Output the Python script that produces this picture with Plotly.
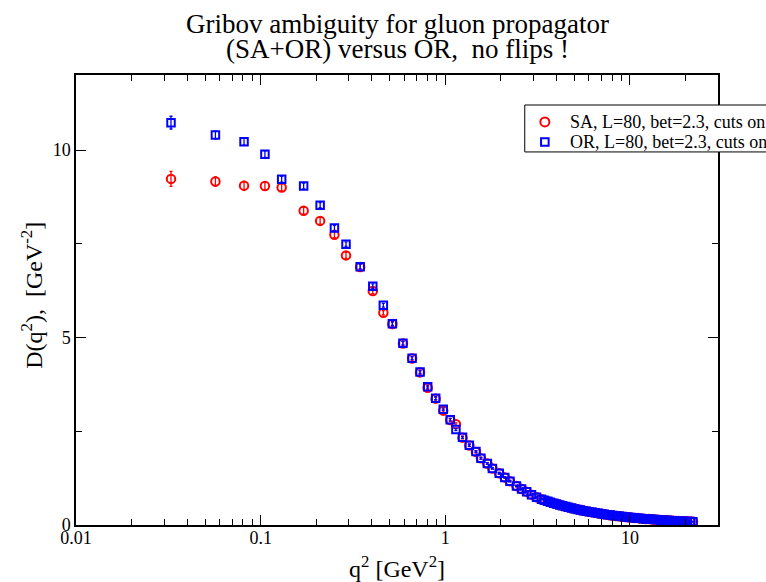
import math
import plotly.graph_objects as go

# Gluon propagator D(q^2) for L=80, beta=2.3 with cuts: SA+OR vs OR gauge fixing
q2 = [
    0.0327, 0.0569, 0.0813, 0.1055, 0.130, 0.171, 0.210, 0.251, 0.290, 0.346,
    0.405, 0.462, 0.517, 0.590, 0.661, 0.730, 0.803, 0.887, 0.975, 1.064,
    1.142, 1.24, 1.35, 1.466, 1.56, 1.69, 1.80, 1.96, 2.10, 2.24,
    2.43, 2.59, 2.76, 2.93, 3.12, 3.32,
    3.44, 3.59, 3.71, 3.87, 4.00, 4.17, 4.31, 4.49, 4.64, 4.84,
    5.00, 5.21, 5.39, 5.61, 5.80, 6.04, 6.25, 6.51, 6.74, 7.01,
    7.26, 7.55, 7.82, 8.13, 8.42, 8.76, 9.07, 9.43, 9.77, 10.16,
    10.52, 10.94, 11.33, 11.78, 12.20, 12.68, 13.14, 13.66, 14.15, 14.71,
    15.24, 15.84, 16.41, 17.05, 17.67, 18.36, 19.03, 19.77, 20.49, 21.28,
    21.95,
]

sa_d = [
    9.23, 9.16, 9.05, 9.04, 9.00, 8.38, 8.11, 7.74, 7.19, 6.88,
    6.24, 5.66, 5.36, 4.84, 4.44, 4.07, 3.66, 3.37, 3.05, 2.80,
    2.69, 2.33, 2.12, 1.95, 1.78, 1.64, 1.51, 1.38, 1.27, 1.17,
    1.04, 0.96, 0.89, 0.81, 0.74, 0.69,
    0.660, 0.635, 0.606, 0.583, 0.557, 0.537, 0.512, 0.494, 0.471, 0.454,
    0.433, 0.418, 0.399, 0.385, 0.366, 0.354, 0.337, 0.326, 0.310, 0.300,
    0.285, 0.276, 0.262, 0.254, 0.242, 0.234, 0.224, 0.216, 0.206, 0.199,
    0.190, 0.184, 0.176, 0.170, 0.162, 0.158, 0.150, 0.146, 0.138, 0.135,
    0.128, 0.125, 0.118, 0.116, 0.109, 0.107, 0.101, 0.099, 0.094, 0.092,
    0.087,
]

sa_err = [
    0.20, 0.12, 0.11, 0.10, 0.10, 0.09, 0.09, 0.08, 0.08, 0.07,
    0.07, 0.06, 0.06, 0.05, 0.05, 0.05, 0.04, 0.04, 0.04, 0.04,
    0.035, 0.03, 0.03, 0.03, 0.03, 0.025, 0.025, 0.02, 0.02, 0.02,
    0.02, 0.02, 0.015, 0.015, 0.015, 0.015,
    0.012, 0.012, 0.012, 0.011, 0.011, 0.011, 0.010, 0.010, 0.010, 0.009,
    0.009, 0.009, 0.008, 0.008, 0.008, 0.008, 0.007, 0.007, 0.007, 0.007,
    0.006, 0.006, 0.006, 0.006, 0.006, 0.005, 0.005, 0.005, 0.005, 0.005,
    0.005, 0.004, 0.004, 0.004, 0.004, 0.004, 0.004, 0.004, 0.003, 0.003,
    0.003, 0.003, 0.003, 0.003, 0.003, 0.003, 0.003, 0.003, 0.003, 0.003,
    0.003,
]

or_d = [
    10.73, 10.40, 10.22, 9.89, 9.22, 9.04, 8.53, 7.92, 7.49, 6.89,
    6.37, 5.86, 5.37, 4.85, 4.45, 4.08, 3.69, 3.38, 3.09, 2.81,
    2.55, 2.34, 2.13, 1.96, 1.78, 1.64, 1.51, 1.38, 1.27, 1.17,
    1.04, 0.96, 0.89, 0.81, 0.74, 0.69,
    0.663, 0.632, 0.609, 0.581, 0.560, 0.535, 0.515, 0.492, 0.474, 0.452,
    0.436, 0.416, 0.401, 0.383, 0.369, 0.352, 0.339, 0.324, 0.312, 0.298,
    0.287, 0.274, 0.264, 0.253, 0.244, 0.233, 0.225, 0.215, 0.207, 0.198,
    0.191, 0.183, 0.177, 0.169, 0.163, 0.157, 0.151, 0.145, 0.139, 0.134,
    0.129, 0.124, 0.119, 0.115, 0.110, 0.106, 0.102, 0.098, 0.095, 0.091,
    0.088,
]

or_err = [
    0.17, 0.10, 0.09, 0.09, 0.08, 0.08, 0.07, 0.07, 0.06, 0.06,
    0.06, 0.05, 0.05, 0.05, 0.04, 0.04, 0.04, 0.04, 0.035, 0.035,
    0.03, 0.03, 0.03, 0.025, 0.025, 0.025, 0.02, 0.02, 0.02, 0.02,
    0.015, 0.015, 0.015, 0.015, 0.012, 0.012,
    0.011, 0.011, 0.011, 0.010, 0.010, 0.010, 0.009, 0.009, 0.009, 0.009,
    0.008, 0.008, 0.008, 0.008, 0.007, 0.007, 0.007, 0.007, 0.006, 0.006,
    0.006, 0.006, 0.006, 0.005, 0.005, 0.005, 0.005, 0.005, 0.005, 0.004,
    0.004, 0.004, 0.004, 0.004, 0.004, 0.004, 0.003, 0.003, 0.003, 0.003,
    0.003, 0.003, 0.003, 0.003, 0.003, 0.003, 0.003, 0.003, 0.003, 0.003,
    0.003,
]

series_names = ["SA, L=80, bet=2.3, cuts on", "OR, L=80, bet=2.3, cuts on"]

x_tick_vals = [0.01, 0.1, 1, 10]
x_tick_text = ["0.01", "0.1", "1", "10"]
x_minor_vals = [
    0.02, 0.03, 0.04, 0.05, 0.06, 0.07, 0.08, 0.09,
    0.2, 0.3, 0.4, 0.5, 0.6, 0.7, 0.8, 0.9,
    2, 3, 4, 5, 6, 7, 8, 9, 20, 30,
]
y_tick_vals = [0, 5, 10]
y_tick_text = ["0", "5", "10"]

SERIF = "Liberation Serif"
RED = "#ff0000"
BLUE = "#0000ff"

fig = go.Figure()

fig.add_trace(go.Scatter(
    x=q2, y=sa_d, mode="markers", name=series_names[0],
    marker=dict(symbol="circle-open", size=8.5, color=RED,
                line=dict(width=2, color=RED)),
    error_y=dict(type="data", array=sa_err, color=RED, thickness=1.3, width=1.5),
))
fig.add_trace(go.Scatter(
    x=q2, y=or_d, mode="markers", name=series_names[1],
    marker=dict(symbol="square-open", size=7.5, color=BLUE,
                line=dict(width=2, color=BLUE)),
    error_y=dict(type="data", array=or_err, color=BLUE, thickness=1.3, width=1.5),
))

axis_common = dict(
    showline=True, linecolor="black", linewidth=1.5, mirror="allticks",
    ticks="inside", ticklen=10, tickwidth=1, tickcolor="black",
    showgrid=False, zeroline=False,
    tickfont=dict(family=SERIF, size=18, color="black"),
)

fig.update_xaxes(
    type="log", range=[-2, math.log10(30)],
    tickmode="array", tickvals=x_tick_vals, ticktext=x_tick_text,
    ticklabelstandoff=-4,
    minor=dict(tickmode="array", tickvals=x_minor_vals, ticks="inside",
               ticklen=6, tickwidth=1, tickcolor="black", showgrid=False),
    **axis_common,
)
fig.update_yaxes(
    range=[0, 12],
    tickmode="array", tickvals=y_tick_vals, ticktext=y_tick_text,
    minor=dict(dtick=2.5, tick0=0, ticks="inside", ticklen=6, tickwidth=1,
               tickcolor="black", showgrid=False),
    **axis_common,
)

annotations = [
    dict(text="Gribov ambiguity for gluon propagator",
         x=0.5, y=1.114, xref="paper", yref="paper",
         xanchor="center", yanchor="middle", showarrow=False,
         font=dict(family=SERIF, size=27, color="black")),
    dict(text="(SA+OR) versus OR,\u00a0 no flips !",
         x=0.5, y=1.057, xref="paper", yref="paper",
         xanchor="center", yanchor="middle", showarrow=False,
         font=dict(family=SERIF, size=27, color="black")),
    dict(text="q<sup>2</sup> [GeV<sup>2</sup>]",
         x=0.5, y=-0.093, xref="paper", yref="paper",
         xanchor="center", yanchor="middle", showarrow=False,
         font=dict(family=SERIF, size=24, color="black")),
    dict(text="D(q<sup>2</sup>),\u00a0 [GeV<sup>-2</sup>]",
         x=-0.069, y=0.511, xref="paper", yref="paper", textangle=-90,
         xanchor="center", yanchor="middle", showarrow=False,
         font=dict(family=SERIF, size=24, color="black")),
]

# Legend drawn as a framed box with symbol shapes and text labels
leg_x0, leg_y0, leg_y1 = 0.699, 0.829, 0.9333
row_y = [0.8956, 0.8511]
sym_x = 0.7303
text_x = 0.7662
shapes = [
    dict(type="rect", xref="paper", yref="paper", x0=leg_x0, x1=1.2,
         y0=leg_y0, y1=leg_y1, line=dict(color="black", width=1),
         fillcolor="white", layer="above"),
    dict(type="circle", xref="paper", yref="paper",
         xsizemode="pixel", ysizemode="pixel", xanchor=sym_x, yanchor=row_y[0],
         x0=-4.5, x1=4.5, y0=-4.5, y1=4.5,
         line=dict(color=RED, width=2), layer="above"),
    dict(type="rect", xref="paper", yref="paper",
         xsizemode="pixel", ysizemode="pixel", xanchor=sym_x, yanchor=row_y[1],
         x0=-3.8, x1=3.8, y0=-3.8, y1=3.8,
         line=dict(color=BLUE, width=2), layer="above"),
]
for name, ry in zip(series_names, row_y):
    annotations.append(dict(
        text=name, x=text_x, y=ry, xref="paper", yref="paper",
        xanchor="left", yanchor="middle", showarrow=False,
        font=dict(family=SERIF, size=18, color="black")))

fig.update_layout(
    width=766, height=582,
    margin=dict(l=76, r=48, t=75, b=57, autoexpand=False),
    paper_bgcolor="white", plot_bgcolor="white",
    showlegend=False,
    annotations=annotations, shapes=shapes,
    font=dict(family=SERIF, color="black"),
)

fig.write_html("out.html")
